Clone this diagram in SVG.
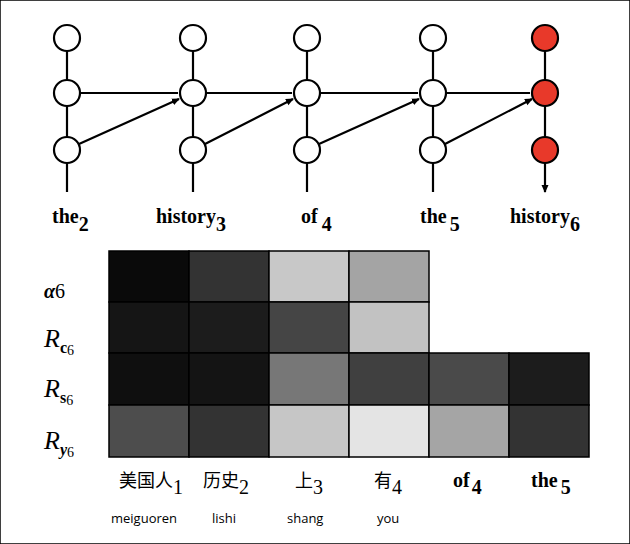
<svg xmlns="http://www.w3.org/2000/svg" width="630" height="544" viewBox="0 0 630 544">
<style>
.n{fill:#fff;stroke:#000;stroke-width:2.2}
.r{fill:#e8392a;stroke:#000;stroke-width:2.2}
.e{stroke:#000;stroke-width:2.2;fill:none;marker-end:url(#a)}
.w{font-family:"Liberation Serif",serif;font-weight:bold;font-size:20px}
.s{font-family:"Liberation Serif",serif;font-size:20px}
.m{font-family:"Liberation Serif",serif;font-style:italic;font-size:26px}
.c{font-family:"Noto Sans CJK SC",sans-serif;font-size:18px}
.p{font-family:"Open Sans","Liberation Sans",sans-serif;font-size:13px}
rect{stroke:#000;stroke-width:1.5}
</style>
<defs><marker id="a" markerWidth="8" markerHeight="8" refX="7" refY="4" orient="auto" markerUnits="userSpaceOnUse"><path d="M0,0.5L8,4L0,7.5z"/></marker></defs>
<rect x="0" y="0" width="630" height="544" fill="#fff" stroke="none"/>
<g id="edges">
<path class="e" d="M67,51V80M67,106V137M67,163V192M80,93H178M79,144L179,99"/>
<path class="e" d="M193,51V80M193,106V137M193,163V192M206,93H292M205,144L293,99"/>
<path class="e" d="M307,51V80M307,106V137M307,163V192M320,93H418M319,144L419,99"/>
<path class="e" d="M433,51V80M433,106V137M433,163V192M446,93H530M445,144L532,99"/>
<path class="e" d="M545,51V80M545,106V137M545,163V192"/>
</g>
<g id="col1"><circle class="n" cx="67" cy="38" r="13"/><circle class="n" cx="67" cy="93" r="13"/><circle class="n" cx="67" cy="150" r="13"/><text x="52" y="223" class="w">the<tspan class="s" dy="8">2</tspan></text></g>
<g id="col2"><circle class="n" cx="193" cy="38" r="13"/><circle class="n" cx="193" cy="93" r="13"/><circle class="n" cx="193" cy="150" r="13"/><text x="156" y="223" class="w">history<tspan class="s" dy="8">3</tspan></text></g>
<g id="col3"><circle class="n" cx="307" cy="38" r="13"/><circle class="n" cx="307" cy="93" r="13"/><circle class="n" cx="307" cy="150" r="13"/><text x="301" y="223" class="w">of<tspan class="s" dx="4" dy="8">4</tspan></text></g>
<g id="col4"><circle class="n" cx="433" cy="38" r="13"/><circle class="n" cx="433" cy="93" r="13"/><circle class="n" cx="433" cy="150" r="13"/><text x="420" y="223" class="w">the<tspan class="s" dx="3" dy="8">5</tspan></text></g>
<g id="col5"><circle class="r" cx="545" cy="38" r="13"/><circle class="r" cx="545" cy="93" r="13"/><circle class="r" cx="545" cy="150" r="13"/><text x="510" y="223" class="w">history<tspan class="s" dy="8">6</tspan></text></g>
<g id="heatmap">
<rect x="109" y="251" width="80" height="51" fill="#0a0a0a"/><rect x="189" y="251" width="80" height="51" fill="#333"/><rect x="269" y="251" width="80" height="51" fill="#c8c8c8"/><rect x="349" y="251" width="80" height="51" fill="#a4a4a4"/>
<rect x="109" y="302" width="80" height="51" fill="#151515"/><rect x="189" y="302" width="80" height="51" fill="#1c1c1c"/><rect x="269" y="302" width="80" height="51" fill="#454545"/><rect x="349" y="302" width="80" height="51" fill="#c2c2c2"/>
<rect x="109" y="353" width="80" height="52" fill="#0f0f0f"/><rect x="189" y="353" width="80" height="52" fill="#141414"/><rect x="269" y="353" width="80" height="52" fill="#777"/><rect x="349" y="353" width="80" height="52" fill="#404040"/><rect x="429" y="353" width="80" height="52" fill="#4a4a4a"/><rect x="509" y="353" width="80" height="52" fill="#1c1c1c"/>
<rect x="109" y="405" width="80" height="52" fill="#4d4d4d"/><rect x="189" y="405" width="80" height="52" fill="#333"/><rect x="269" y="405" width="80" height="52" fill="#c6c6c6"/><rect x="349" y="405" width="80" height="52" fill="#e4e4e4"/><rect x="429" y="405" width="80" height="52" fill="#a5a5a5"/><rect x="509" y="405" width="80" height="52" fill="#333"/>
</g>
<g id="rowlabels">
<text x="44" y="298" class="s" font-size="28" font-weight="bold" font-style="italic">α<tspan font-weight="normal" font-style="normal" font-size="20">6</tspan></text>
<text x="44" y="347" class="m">R<tspan font-style="normal" font-weight="bold" font-size="16" dy="6">c</tspan><tspan font-style="normal" font-size="14" dy="2">6</tspan></text>
<text x="44" y="397" class="m">R<tspan font-style="normal" font-weight="bold" font-size="16" dy="6">s</tspan><tspan font-style="normal" font-size="14" dy="2">6</tspan></text>
<text x="44" y="449" class="m">R<tspan font-weight="bold" font-size="16" dy="6">y</tspan><tspan font-style="normal" font-size="14" dy="2">6</tspan></text>
</g>
<g id="collabels">
<text x="119" y="487" class="c">美国人<tspan class="s" dy="7">1</tspan></text>
<text x="203" y="487" class="c">历史<tspan class="s" dy="7">2</tspan></text>
<text x="295" y="487" class="c">上<tspan class="s" dy="7">3</tspan></text>
<text x="374" y="487" class="c">有<tspan class="s" dy="7">4</tspan></text>
<text x="453" y="487" class="w">of<tspan class="s" dx="2" dy="7">4</tspan></text>
<text x="531" y="487" class="w">the<tspan class="s" dx="3" dy="7">5</tspan></text>
<text x="111" y="523" class="p">meiguoren</text>
<text x="212" y="523" class="p">lishi</text>
<text x="287" y="523" class="p">shang</text>
<text x="377" y="523" class="p">you</text>
</g>
</svg>
